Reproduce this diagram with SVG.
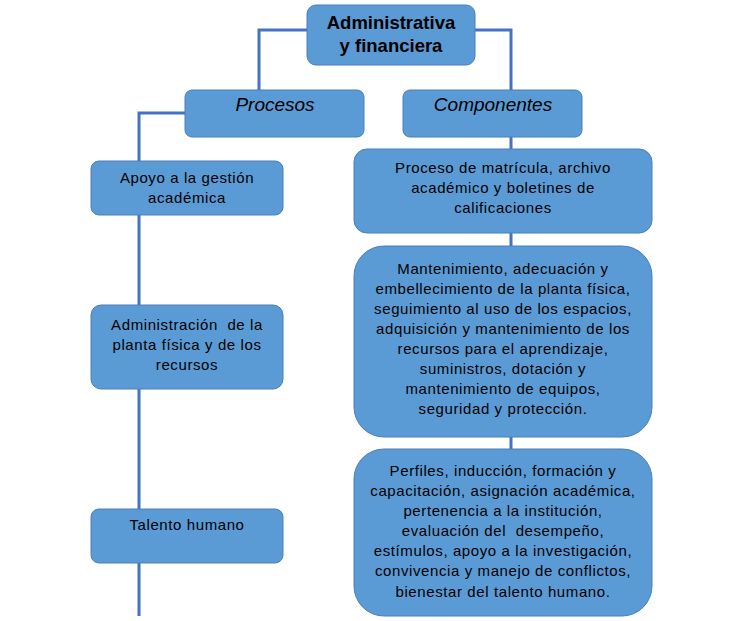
<svg xmlns="http://www.w3.org/2000/svg" width="746" height="621" viewBox="0 0 746 621">
<style>
.box{fill:#5B9BD5;stroke:#4A7EBB;stroke-width:1}
.ln{fill:none;stroke:#4472C4;stroke-width:3}
text{font-family:"Liberation Sans",Arial,sans-serif;fill:#000;text-anchor:middle}
.t{font-size:15px;letter-spacing:0.6px}
.h{font-size:18.5px;font-weight:bold}
.i{font-size:19px;font-style:italic}
</style>
<rect width="746" height="621" fill="#fff"/>
<g id="connectors">
<polyline class="ln" points="307,30 259,30 259,90"/>
<polyline class="ln" points="475,30 511,30 511,90"/>
<line class="ln" x1="511" y1="137" x2="511" y2="449"/>
<polyline class="ln" points="185,113 139,113 139,616"/>
</g>
<g id="root">
<rect class="box" x="307" y="5" width="168" height="60" rx="9"/>
<text class="h" x="391" y="29">Administrativa</text>
<text class="h" x="391" y="52">y financiera</text>
</g>
<g id="procesos">
<rect class="box" x="185" y="90" width="179" height="47" rx="7"/>
<text class="i" x="275" y="111">Procesos</text>
</g>
<g id="componentes">
<rect class="box" x="403" y="90" width="179" height="47" rx="7"/>
<text class="i" x="493" y="111">Componentes</text>
</g>
<g id="apoyo">
<rect class="box" x="91" y="161" width="192" height="54" rx="8"/>
<text class="t" x="187" y="183">Apoyo a la gestión</text>
<text class="t" x="187" y="203">académica</text>
</g>
<g id="admin">
<rect class="box" x="91" y="305" width="192" height="84" rx="10"/>
<text class="t" x="187" y="330" xml:space="preserve">Administración  de la</text>
<text class="t" x="187" y="350">planta física y de los</text>
<text class="t" x="187" y="370">recursos</text>
</g>
<g id="talento">
<rect class="box" x="91" y="509" width="192" height="54" rx="8"/>
<text class="t" x="187" y="530">Talento humano</text>
</g>
<g id="proceso-matricula">
<rect class="box" x="354" y="149" width="298" height="84" rx="13"/>
<text class="t" x="503" y="173">Proceso de matrícula, archivo</text>
<text class="t" x="503" y="193">académico y boletines de</text>
<text class="t" x="503" y="213">calificaciones</text>
</g>
<g id="mantenimiento">
<rect class="box" x="354" y="246" width="298" height="191" rx="30"/>
<text class="t" x="503" y="274">Mantenimiento, adecuación y</text>
<text class="t" x="503" y="294">embellecimiento de la planta física,</text>
<text class="t" x="503" y="314">seguimiento al uso de los espacios,</text>
<text class="t" x="503" y="334">adquisición y mantenimiento de los</text>
<text class="t" x="503" y="354">recursos para el aprendizaje,</text>
<text class="t" x="503" y="374">suministros, dotación y</text>
<text class="t" x="503" y="394">mantenimiento de equipos,</text>
<text class="t" x="503" y="414">seguridad y protección.</text>
</g>
<g id="perfiles">
<rect class="box" x="354" y="449" width="298" height="167" rx="30"/>
<text class="t" x="503" y="476">Perfiles, inducción, formación y</text>
<text class="t" x="503" y="496">capacitación, asignación académica,</text>
<text class="t" x="503" y="516">pertenencia a la institución,</text>
<text class="t" x="503" y="536" xml:space="preserve">evaluación del  desempeño,</text>
<text class="t" x="503" y="556">estímulos, apoyo a la investigación,</text>
<text class="t" x="503" y="576">convivencia y manejo de conflictos,</text>
<text class="t" x="503" y="597">bienestar del talento humano.</text>
</g>
</svg>
